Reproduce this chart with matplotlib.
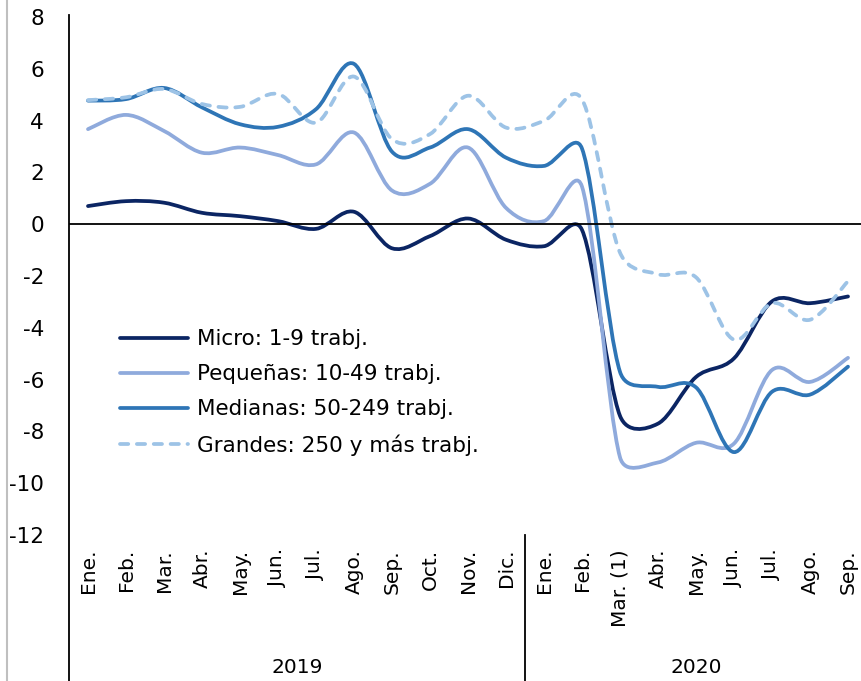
import numpy as np
import matplotlib
matplotlib.use("Agg")
import matplotlib.pyplot as plt
from matplotlib.path import Path
from matplotlib.patches import PathPatch
from matplotlib.lines import Line2D

plt.rcParams['font.family'] = ['DejaVu Sans']
plt.rcParams['axes.unicode_minus'] = False

months = ['Ene.', 'Feb.', 'Mar.', 'Abr.', 'May.', 'Jun.', 'Jul.', 'Ago.', 'Sep.',
          'Oct.', 'Nov.', 'Dic.',
          'Ene.', 'Feb.', 'Mar. (1)', 'Abr.', 'May.', 'Jun.', 'Jul.', 'Ago.', 'Sep.']
years = ['2019', '2020']
year_counts = [12, 9]

micro = [0.70, 0.89, 0.83, 0.44, 0.31, 0.12, -0.18, 0.48, -0.93, -0.46, 0.22, -0.60,
         -0.85, -0.22, -7.4, -7.7, -5.9, -5.18, -2.98, -3.05, -2.79]
pequenas = [3.67, 4.22, 3.60, 2.76, 2.96, 2.67, 2.31, 3.54, 1.30, 1.56, 2.96, 0.63,
            0.12, 1.45, -9.0, -9.2, -8.44, -8.47, -5.63, -6.09, -5.16]
medianas = [4.77, 4.83, 5.26, 4.51, 3.86, 3.76, 4.44, 6.19, 2.80, 2.96, 3.67, 2.57,
            2.25, 2.92, -5.7, -6.28, -6.3, -8.8, -6.47, -6.58, -5.5]
grandes = [4.79, 4.90, 5.22, 4.64, 4.53, 5.03, 3.92, 5.70, 3.28, 3.48, 4.96, 3.73,
           3.99, 4.82, -1.1, -1.93, -2.05, -4.46, -3.05, -3.69, -2.2]

labels = ['Micro: 1-9 trabj.', 'Pequeñas: 10-49 trabj.',
          'Medianas: 50-249 trabj.', 'Grandes: 250 y más trabj.']
colors = ['#0b2563', '#8faadc', '#2e75b6', '#9dc3e6']
styles = ['-', '-', '-', (0, (2.2, 2.3))]


def smooth_path(xs, ys, sx=38.0, sy=25.9):
    # excel style smoothed line (bezier, control arm capped at half the segment)
    pts = np.column_stack([xs, ys]).astype(float)
    scale = np.array([sx, sy])
    n = len(pts)

    def dist(a, b):
        return np.hypot(*((a - b) * scale))

    verts = [pts[0]]
    codes = [Path.MOVETO]
    for i in range(n - 1):
        p0 = pts[i - 1] if i > 0 else pts[i]
        p1 = pts[i]
        p2 = pts[i + 1]
        p3 = pts[i + 2] if i + 2 < n else pts[i + 1]
        d12 = dist(p1, p2)
        d02 = dist(p0, p2)
        d13 = dist(p1, p3)
        f0 = 1 / 6 if d02 / 6 < d12 / 2 else (d12 / (2 * d02) if d02 > 0 else 0)
        f3 = 1 / 6 if d13 / 6 < d12 / 2 else (d12 / (2 * d13) if d13 > 0 else 0)
        c1 = p1 + (p2 - p0) * f0
        c2 = p2 - (p3 - p1) * f3
        verts += [c1, c2, p2]
        codes += [Path.CURVE4] * 3
    return Path(verts, codes)


fig = plt.figure(figsize=(8.61, 6.81), dpi=100)
ax = fig.add_axes([69 / 861, 1 - 535 / 681, 798 / 861, 518 / 681])

x = np.arange(len(months))
series = [micro, pequenas, medianas, grandes]
handles = []
for ys, c, ls, lab in zip(series, colors, styles, labels):
    patch = PathPatch(smooth_path(x, ys), fill=False, edgecolor=c, lw=2.7,
                      linestyle=ls, capstyle='round', joinstyle='round')
    ax.add_patch(patch)
    handles.append(Line2D([], [], color=c, lw=2.7, linestyle=ls, label=lab,
                          dash_capstyle='round', solid_capstyle='round'))

ax.axhline(0, color='black', lw=1.3)

ax.set_xlim(-0.5, len(months) - 0.5)
ax.set_ylim(-12, 8)
ax.set_yticks(np.arange(-12, 9, 2))
ax.set_xticks(x)
ax.set_xticklabels(months, rotation=90, fontsize=14.5)
ax.tick_params(axis='x', length=0, pad=10)
ax.tick_params(axis='y', length=0, pad=18, labelsize=15.5)
for sp in ax.spines.values():
    sp.set_visible(False)

# left axis line and year separator, running to the bottom of the figure
xt = ax.get_xaxis_transform()
ax.plot([-0.5, -0.5], [1.004, -0.32], color='black', lw=1.3, transform=xt, clip_on=False)
sep = year_counts[0] - 0.5
ax.plot([sep, sep], [0.0, -0.32], color='black', lw=1.3, transform=xt, clip_on=False)

start = 0
for yr, cnt in zip(years, year_counts):
    mid = start + cnt / 2 - 0.5
    ax.text(mid, -0.255, yr, transform=xt, ha='center', va='center', fontsize=14.5)
    start += cnt

# light gray frame edge at the far left
fig.add_artist(Line2D([7 / 861, 7 / 861], [0, 1], color='#bfbfbf', lw=1.5))

ax.legend(handles=handles, loc='center left', bbox_to_anchor=(0.064, 0.275),
          frameon=False, fontsize=15.5, handlelength=3.16, handletextpad=0.42,
          labelspacing=0.70, borderaxespad=0, borderpad=0)

fig.savefig('out.png', dpi=100)
